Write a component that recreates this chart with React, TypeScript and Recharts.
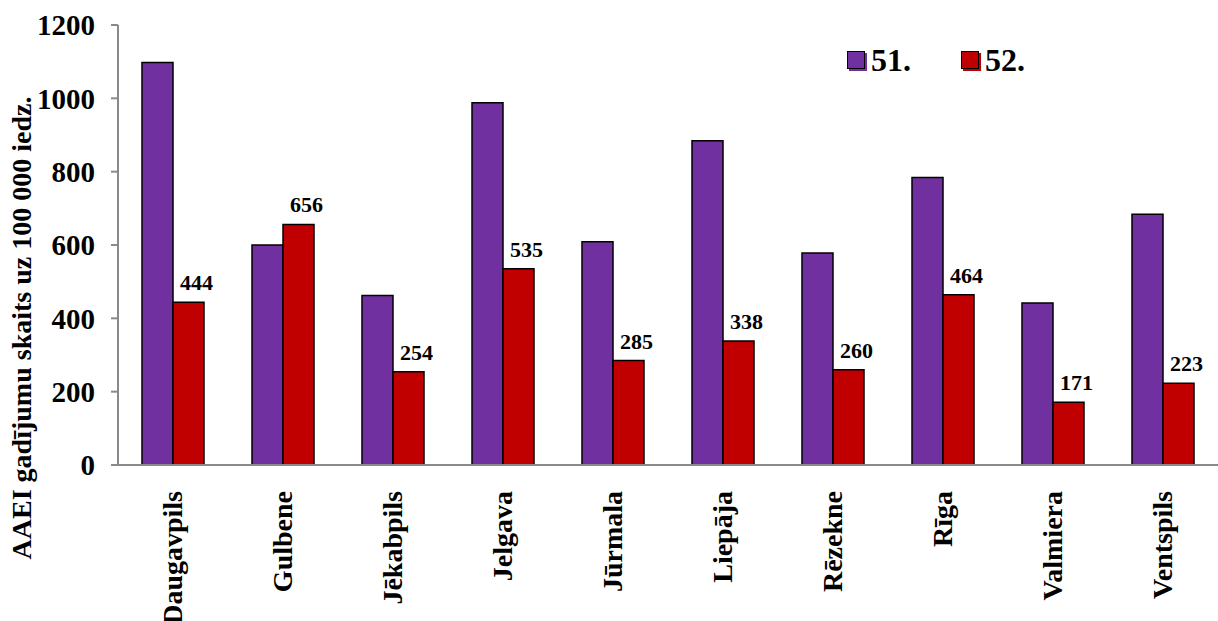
import { BarChart, Bar, XAxis, YAxis, Legend, LabelList } from 'recharts'

const cities = ['Daugavpils', 'Gulbene', 'Jēkabpils', 'Jelgava', 'Jūrmala', 'Liepāja', 'Rēzekne', 'Rīga', 'Valmiera', 'Ventspils']
const week51 = [1098, 600, 462, 988, 609, 884, 578, 784, 442, 684]
const week52 = [444, 656, 254, 535, 285, 338, 260, 464, 171, 223]
const yTicks = [0, 200, 400, 600, 800, 1000, 1200]

const data = cities.map((city, i) => ({ city, w51: week51[i], w52: week52[i] }))

const font = '"Times New Roman", "Liberation Serif", Times, serif'
const axisGrey = '#898989'

// eslint-disable-next-line @typescript-eslint/no-explicit-any
const CityTick = ({ x, y, payload }: any) => (
  <text transform={`translate(${x},${y + 18}) rotate(-90)`} textAnchor="end" dy="0.33em"
    style={{ fontFamily: font, fontSize: 28, fontWeight: 700, fill: '#000' }}>
    {payload.value}
  </text>
)

// eslint-disable-next-line @typescript-eslint/no-explicit-any
const YTitle = ({ viewBox }: any) => (
  <text transform={`translate(${viewBox.x + 22},${viewBox.y + viewBox.height / 2 + 83}) rotate(-90)`}
    textAnchor="middle" dy="0.33em"
    style={{ fontFamily: font, fontSize: 28, fontWeight: 700, fill: '#000' }}>
    AAEI gadījumu skaits uz 100 000 iedz.
  </text>
)

// eslint-disable-next-line @typescript-eslint/no-explicit-any
const LegendBox = ({ payload }: any) => (
  <div style={{ display: 'flex', alignItems: 'center', fontFamily: font, color: '#000' }}>
    {/* eslint-disable-next-line @typescript-eslint/no-explicit-any */}
    {(payload || []).map((p: any, i: number) => (
      <div key={p.value} style={{ display: 'flex', alignItems: 'center', marginLeft: i ? 50 : 0 }}>
        <span style={{ width: 16, height: 16, background: p.color, border: '1.5px solid #000', boxShadow: `2px 2px 0 ${p.color}` }} />
        <span style={{ fontSize: 32, fontWeight: 700, marginLeft: 6, lineHeight: 1 }}>{p.value}</span>
      </div>
    ))}
  </div>
)

export default function App() {
  return (
    <div style={{ position: 'absolute', left: 0, top: 0, width: 1218, height: 621, background: '#fff', fontFamily: font }}>
      <BarChart width={1218} height={621} data={data} margin={{ top: 25, right: 0, bottom: 0, left: 0 }}
        barSize={31} barGap={0} style={{ fontFamily: font }}>
        <XAxis dataKey="city" height={156} interval={0} tickLine={false}
          axisLine={{ stroke: axisGrey, strokeWidth: 2 }} tick={<CityTick />} />
        <YAxis width={118} domain={[0, 1200]} ticks={yTicks} tickSize={7} tickMargin={16}
          axisLine={{ stroke: axisGrey, strokeWidth: 2 }} tickLine={{ stroke: axisGrey, strokeWidth: 2 }}
          tick={{ style: { fontFamily: font }, fontSize: 29, fontWeight: 700, fill: '#000' }}
          label={{ content: <YTitle /> }} />
        <Legend layout="horizontal" verticalAlign="middle" align="center"
          wrapperStyle={{ top: 44, left: 847, width: 'auto' }} content={<LegendBox />} />
        <Bar dataKey="w51" name="51." fill="#7030A0" stroke="#000" strokeWidth={1.5} isAnimationActive={false} />
        <Bar dataKey="w52" name="52." fill="#C00000" stroke="#000" strokeWidth={1.5} isAnimationActive={false}>
          <LabelList dataKey="w52" position="top" offset={12} dx={8}
            style={{ fontFamily: font, fontSize: 22, fontWeight: 700, fill: '#000' }} />
        </Bar>
      </BarChart>
    </div>
  )
}
